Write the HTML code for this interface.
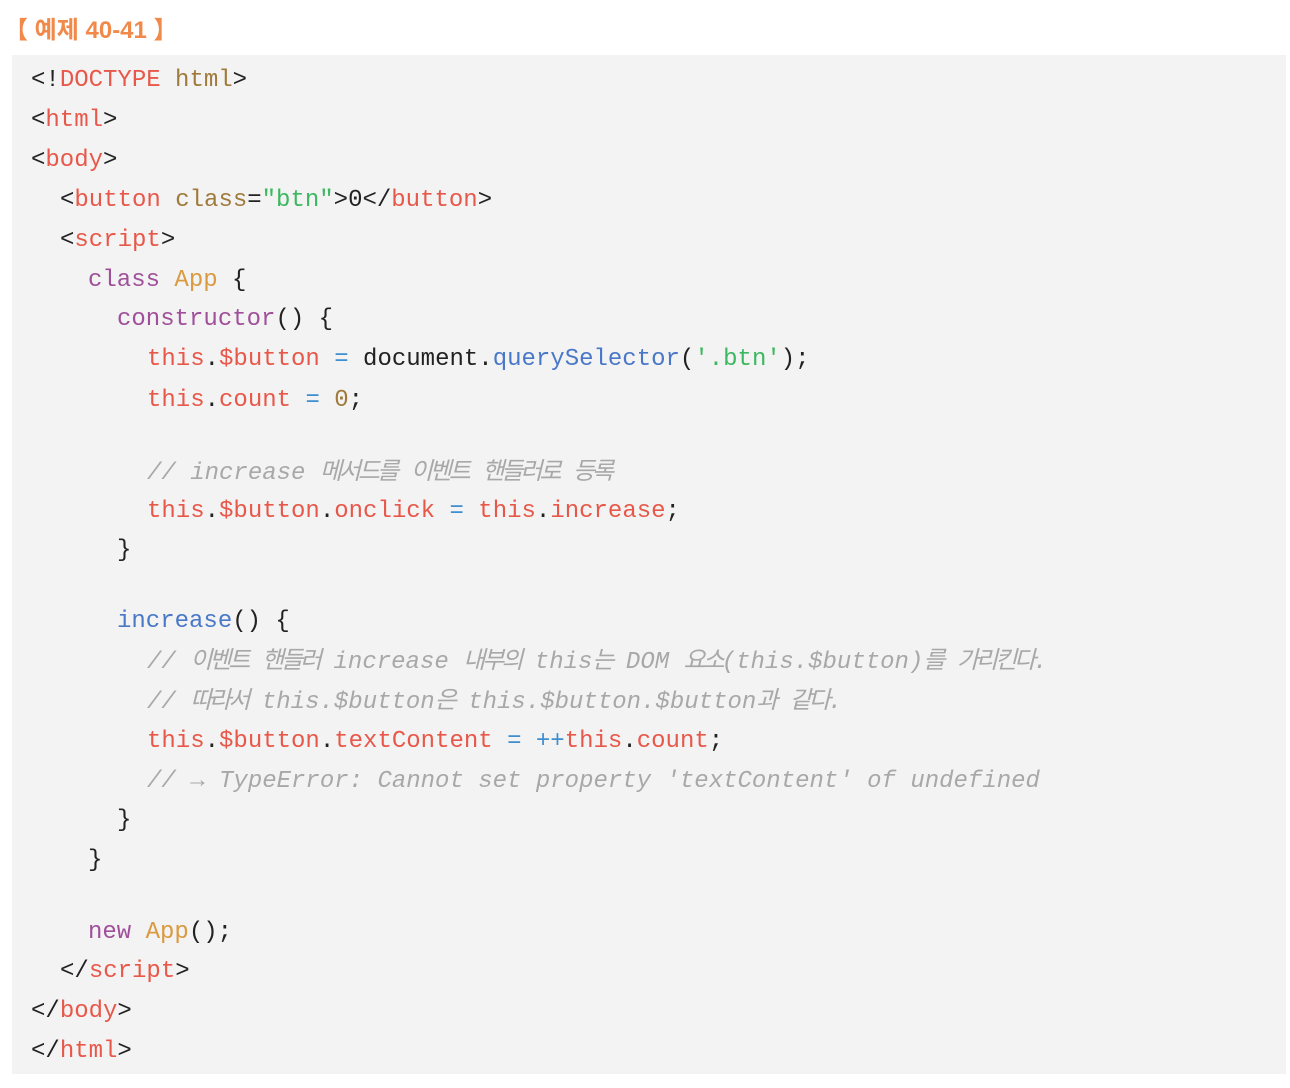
<!DOCTYPE html>
<html><head><meta charset="utf-8"><style>
body{margin:0;width:1290px;height:1088px;background:#fff;position:relative;overflow:hidden}
.t{position:absolute;left:4px;top:10px;font:bold 24px "Liberation Sans","Noto Sans CJK KR",sans-serif;color:#f0894a}
.box{position:absolute;left:12px;top:55px;width:1274px;height:1019px;background:#f3f3f3}
.l{position:absolute;height:30px;line-height:30px;font:24px "Liberation Mono","Noto Sans CJK KR",monospace;color:#222;white-space:pre}
.r{color:#e8584a}.b{color:#a07a3a}.g{color:#3cb860}.u{color:#4a78c8}.o{color:#3d8fd0}
.p{color:#a0509a}.a{color:#d99a40}
.c{color:#a8a8a8;font-style:italic}
.k{letter-spacing:-3px}
</style></head><body>
<div class="t">【 예제 40-41 】</div>
<div class="box"></div>
<div class="l" style="left:31px;top:67px">&lt;!<span class="r">DOCTYPE</span> <span class="b">html</span>&gt;</div>
<div class="l" style="left:31px;top:107px">&lt;<span class="r">html</span>&gt;</div>
<div class="l" style="left:31px;top:147px">&lt;<span class="r">body</span>&gt;</div>
<div class="l" style="left:60px;top:187px">&lt;<span class="r">button</span> <span class="b">class</span>=<span class="g">"btn"</span>&gt;0&lt;/<span class="r">button</span>&gt;</div>
<div class="l" style="left:60px;top:227px">&lt;<span class="r">script</span>&gt;</div>
<div class="l" style="left:88px;top:267px"><span class="p">class</span> <span class="a">App</span> {</div>
<div class="l" style="left:117px;top:306px"><span class="p">constructor</span>() {</div>
<div class="l" style="left:147px;top:346px"><span class="r">this</span>.<span class="r">$button</span> <span class="o">=</span> document.<span class="u">querySelector</span>(<span class="g">'.btn'</span>);</div>
<div class="l" style="left:147px;top:387px"><span class="r">this</span>.<span class="r">count</span> <span class="o">=</span> <span class="b">0</span>;</div>
<div class="l c" style="left:147px;top:451px">// increase <span class="k">메서드를</span> <span class="k">이벤트</span> <span class="k">핸들러로</span> <span class="k">등록</span></div>
<div class="l" style="left:147px;top:498px"><span class="r">this</span>.<span class="r">$button</span>.<span class="r">onclick</span> <span class="o">=</span> <span class="r">this</span>.<span class="r">increase</span>;</div>
<div class="l" style="left:117px;top:537px">}</div>
<div class="l" style="left:117px;top:608px"><span class="u">increase</span>() {</div>
<div class="l c" style="left:147px;top:640px">// <span class="k">이벤트</span> <span class="k">핸들러</span> increase <span class="k">내부의</span> this<span class="k">는</span> DOM <span class="k">요소</span>(this.$button)<span class="k">를</span> <span class="k">가리킨다</span>.</div>
<div class="l c" style="left:147px;top:680px">// <span class="k">따라서</span> this.$button<span class="k">은</span> this.$button.$button<span class="k">과</span> <span class="k">같다</span>.</div>
<div class="l" style="left:147px;top:728px"><span class="r">this</span>.<span class="r">$button</span>.<span class="r">textContent</span> <span class="o">=</span> <span class="o">++</span><span class="r">this</span>.<span class="r">count</span>;</div>
<div class="l c" style="left:147px;top:768px">// → TypeError: Cannot set property 'textContent' of undefined</div>
<div class="l" style="left:117px;top:807px">}</div>
<div class="l" style="left:88px;top:847px">}</div>
<div class="l" style="left:88px;top:919px"><span class="p">new</span> <span class="a">App</span>();</div>
<div class="l" style="left:60px;top:958px">&lt;/<span class="r">script</span>&gt;</div>
<div class="l" style="left:31px;top:998px">&lt;/<span class="r">body</span>&gt;</div>
<div class="l" style="left:31px;top:1038px">&lt;/<span class="r">html</span>&gt;</div>
</body></html>
